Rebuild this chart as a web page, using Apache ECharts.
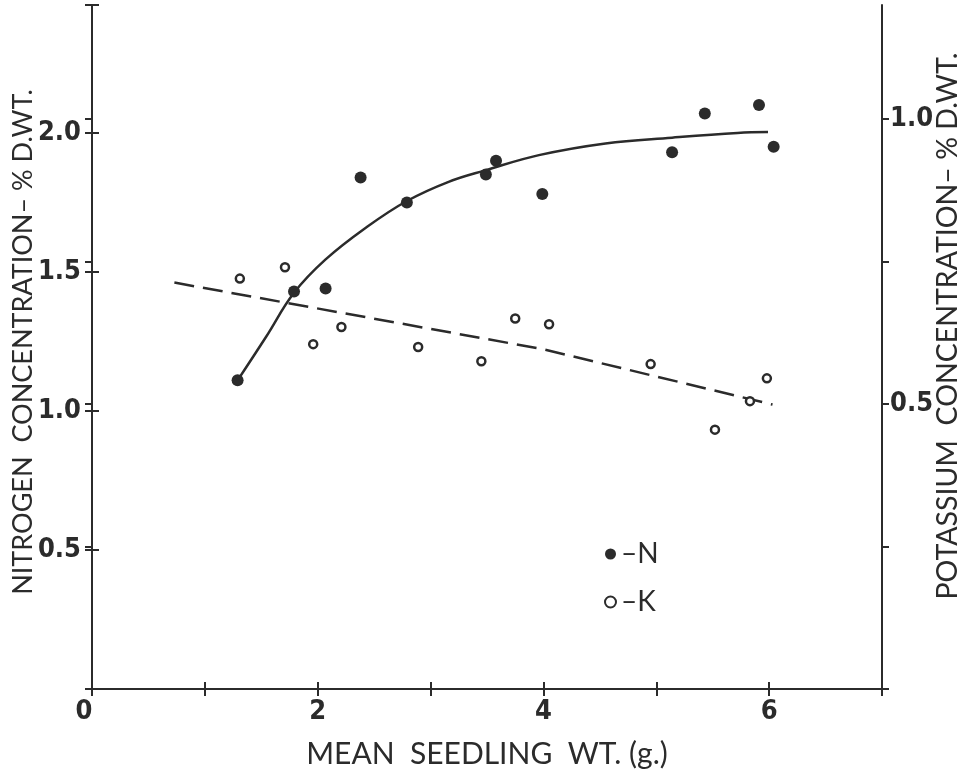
<!DOCTYPE html>
<html>
<head>
<meta charset="utf-8">
<script src="https://cdn.jsdelivr.net/npm/echarts@6/dist/echarts.min.js"></script>
<style>
  html, body { margin: 0; padding: 0; background: #fff; }
  #chart { width: 974px; height: 770px; }
</style>
</head>
<body>
<div id="chart"></div>
<script>
// 数据：氮 (N) 实心点
const nWeight = [1.29, 1.79, 2.07, 2.38, 2.79, 3.49, 3.58, 3.99, 5.14, 5.43, 5.91, 6.04];
const nConc = [1.11, 1.43, 1.44, 1.84, 1.75, 1.85, 1.90, 1.78, 1.93, 2.07, 2.10, 1.95];
// 钾 (K) 空心点
const kWeight = [1.31, 1.71, 1.96, 2.21, 2.89, 3.45, 3.75, 4.05, 4.95, 5.52, 5.83, 5.98];
const kConc = [0.72, 0.74, 0.605, 0.635, 0.60, 0.575, 0.65, 0.64, 0.57, 0.455, 0.505, 0.545];
// N 拟合曲线
const nCurveX = [1.29, 1.54, 1.79, 2.07, 2.43, 2.79, 3.16, 3.49, 3.96, 4.55, 5.14, 5.72, 5.99];
const nCurveY = [1.11, 1.265, 1.425, 1.545, 1.66, 1.755, 1.824, 1.866, 1.92, 1.962, 1.983, 2.00, 2.003];
// K 虚线
const kLineX = [0.73, 4.00, 6.03];
const kLineY = [0.713, 0.596, 0.499];

const ink = '#2b2b2b';
const tickFont = '"DejaVu Sans Condensed", "Liberation Sans Narrow", "Roboto Condensed", sans-serif';
const titleFont = 'Lato';

function pairs(xs, ys) {
    return xs.map((x, i) => [x, ys[i]]);
}

const chart = echarts.init(document.getElementById('chart'));

const baseTick = { show: true, length: 7, lineStyle: { color: ink, width: 2 } };
const tickText = { fontFamily: tickFont, fontWeight: 'bold', fontSize: 27, color: ink };

const option = {
    backgroundColor: '#fff',
    animation: false,
    grid: { left: 92, right: 92, top: 5, bottom: 81, containLabel: false, outerBoundsMode: 'none' },
    legend: {
        data: [
            { name: 'N', icon: 'circle', itemStyle: { color: ink, borderWidth: 0 } },
            { name: 'K', icon: 'circle', itemStyle: { color: '#fff', borderColor: ink, borderWidth: 2 } }
        ],
        orient: 'vertical',
        left: 599,
        top: 535,
        itemWidth: 11,
        itemHeight: 11,
        itemGap: 20,
        formatter: name => '–' + name,
        textStyle: { fontFamily: titleFont, fontSize: 28, color: ink }
    },
    xAxis: [
        {
            type: 'value', min: 0, max: 7, interval: 1,
            name: 'MEAN  SEEDLING  WT. (g.)',
            nameLocation: 'middle', nameGap: 50, nameMoveOverlap: false,
            nameTextStyle: { fontFamily: titleFont, fontSize: 30, color: ink },
            axisLine: { show: true, onZero: false, lineStyle: { color: ink, width: 2 } },
            axisTick: baseTick,
            splitLine: { show: false },
            axisLabel: Object.assign({}, tickText, {
                margin: 9,
                formatter: v => (v % 2 === 0 ? (v === 0 ? '{z|0}' : String(v)) : ''),
                rich: { z: Object.assign({}, tickText, { padding: [0, 16, 0, 0] }) }
            })
        },
        {
            // 内侧刻度
            type: 'value', min: 0, max: 7, interval: 1, position: 'bottom',
            axisLine: { show: false },
            axisTick: Object.assign({}, baseTick, { inside: true }),
            axisLabel: { show: false },
            splitLine: { show: false }
        }
    ],
    yAxis: [
        {
            type: 'value', min: 0, max: 2.46, interval: 0.5, position: 'left',
            name: 'NITROGEN  CONCENTRATION– % D.WT.',
            nameLocation: 'middle', nameRotate: 90, nameGap: 55, nameMoveOverlap: false,
            nameTextStyle: { fontFamily: titleFont, fontSize: 27, color: ink, padding: [0, 0, 0, 10] },
            axisLine: { show: true, onZero: false, lineStyle: { color: ink, width: 2 } },
            axisTick: baseTick,
            splitLine: { show: false },
            axisLabel: Object.assign({}, tickText, {
                margin: 11, showMaxLabel: false,
                formatter: v => (v === 0 ? '' : v.toFixed(1))
            })
        },
        {
            type: 'value', min: 0, max: 1.2, interval: 0.25, position: 'right',
            name: 'POTASSIUM  CONCENTRATION– % D.WT.',
            nameLocation: 'middle', nameRotate: 90, nameGap: 51, nameMoveOverlap: false,
            nameTextStyle: { fontFamily: titleFont, fontSize: 28.5, color: ink, padding: [0, 0, 0, 42] },
            axisLine: { show: true, onZero: false, lineStyle: { color: ink, width: 2 } },
            axisTick: baseTick,
            splitLine: { show: false },
            axisLabel: Object.assign({}, tickText, {
                margin: 8, showMaxLabel: false,
                formatter: v => (v === 0.5 || v === 1 ? v.toFixed(1) : '')
            })
        },
        {
            type: 'value', min: 0, max: 2.46, interval: 0.5, position: 'left',
            axisLine: { show: false },
            axisTick: Object.assign({}, baseTick, { inside: true }),
            axisLabel: { show: false },
            splitLine: { show: false }
        },
        {
            type: 'value', min: 0, max: 1.2, interval: 0.25, position: 'right',
            axisLine: { show: false },
            axisTick: Object.assign({}, baseTick, { inside: true }),
            axisLabel: { show: false },
            splitLine: { show: false }
        }
    ],
    series: [
        {
            name: 'N curve',
            type: 'line',
            data: pairs(nCurveX, nCurveY),
            smooth: 0.4,
            symbol: 'none',
            lineStyle: { color: ink, width: 2.5 },
            z: 2
        },
        {
            name: 'K line',
            type: 'line',
            yAxisIndex: 1,
            data: pairs(kLineX, kLineY),
            symbol: 'none',
            lineStyle: { color: ink, width: 2.5, type: [20, 9] },
            z: 2
        },
        {
            name: 'N',
            type: 'scatter',
            data: pairs(nWeight, nConc),
            symbol: 'circle',
            symbolSize: 12,
            itemStyle: { color: ink, opacity: 1 },
            z: 3
        },
        {
            name: 'K',
            type: 'scatter',
            yAxisIndex: 1,
            data: pairs(kWeight, kConc),
            symbol: 'circle',
            symbolSize: 8,
            itemStyle: { color: '#fff', borderColor: ink, borderWidth: 2.5, opacity: 1 },
            z: 3
        }
    ]
};

chart.setOption(option);

window.addEventListener('resize', function () {
    chart.resize();
});
</script>
</body>
</html>
